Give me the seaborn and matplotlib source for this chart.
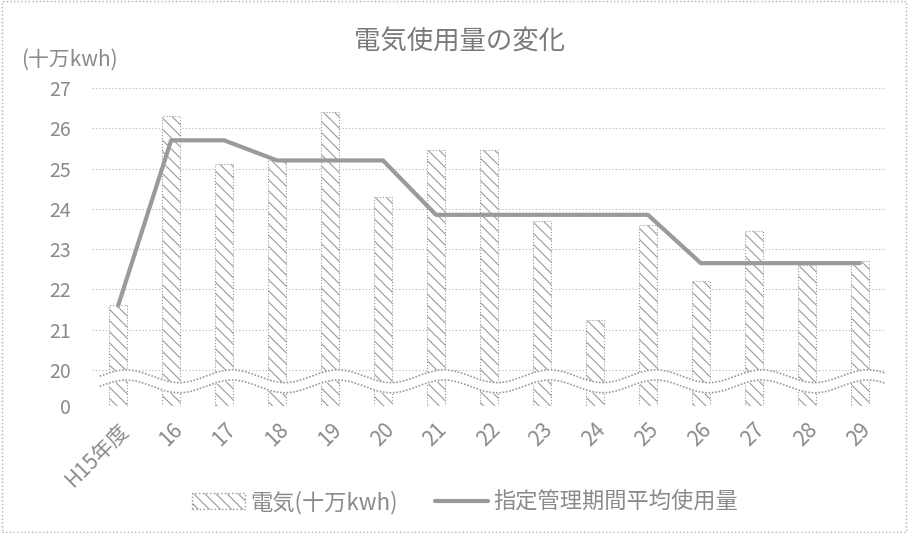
import matplotlib
matplotlib.use("Agg")
import matplotlib.pyplot as plt
import matplotlib.transforms as mtransforms
import numpy as np
import seaborn as sns

# 年度ごとの電気使用量（十万kwh）と指定管理期間の平均
years = ["H15年度", "16", "17", "18", "19", "20", "21", "22", "23", "24", "25", "26", "27", "28", "29"]
usage = [21.6, 26.3, 25.1, 25.2, 26.4, 24.3, 25.45, 25.45, 23.7, 21.25, 23.6, 22.2, 23.45, 22.6, 22.7]
period_avg = [21.6, 25.7, 25.7, 25.2, 25.2, 25.2, 23.85, 23.85, 23.85, 23.85, 23.85, 22.65, 22.65, 22.65, 22.65]
yticks = [0, 20, 21, 22, 23, 24, 25, 26, 27]

gray = "#9a9a9a"
text_gray = "#8a8a8a"

sns.set_theme(style="white")
plt.rcParams["font.family"] = ["Noto Sans CJK JP", "DejaVu Sans"]
plt.rcParams["hatch.linewidth"] = 0.8


# 0〜20 を圧縮した軸（省略線あり）
def fwd(v):
    v = np.asarray(v, dtype=float)
    return np.where(v >= 20, v - 19.1, v * 0.045)


def inv(u):
    u = np.asarray(u, dtype=float)
    return np.where(u >= 0.9, u + 19.1, u / 0.045)


fig = plt.figure(figsize=(9.08, 5.33), dpi=100)
ax = fig.add_axes([0.101, 0.238, 0.875, 0.597])

sns.barplot(x=years, y=usage, ax=ax, color="white", width=0.34,
            edgecolor=gray, linewidth=0.8, zorder=2)
for p in ax.patches:
    p.set_hatch("\\\\\\")
    p.set_linestyle(":")

sns.lineplot(x=np.arange(len(years)), y=period_avg, ax=ax, color=gray,
             linewidth=3, zorder=4, sort=False)

ax.set_yscale("function", functions=(fwd, inv))
ax.set_ylim(0, 27)
ax.set_xlim(-0.5, len(years) - 0.5)
ax.set_yticks(yticks)
ax.set_yticklabels([str(t) for t in yticks])

for t in yticks[1:]:
    ax.axhline(t, color="#b5b5b5", linestyle=(0, (1, 2)), linewidth=0.8, zorder=1)

# 省略記号（波線）
trans = mtransforms.blended_transform_factory(ax.transData, ax.transAxes)
wx = np.linspace(-0.35, len(years) - 0.3, 600)
phase = np.sin(np.pi * (wx + 0.35))
lower = 0.062 + 0.02 * phase
upper = lower + 0.032
ax.fill_between(wx, lower, upper, transform=trans, color="white", zorder=3)
ax.plot(wx, lower, transform=trans, color=gray, linewidth=1.2, linestyle=(0, (1, 1)), zorder=3)
ax.plot(wx, upper, transform=trans, color=gray, linewidth=1.2, linestyle=(0, (1, 1)), zorder=3)

for s in ax.spines.values():
    s.set_visible(False)
ax.tick_params(axis="y", length=0, pad=15, labelsize=14, labelcolor=text_gray)
ax.tick_params(axis="x", length=0, pad=9, labelsize=15, labelcolor=text_gray)
for lab in ax.get_xticklabels():
    lab.set_rotation(45)
    lab.set_ha("right")
    lab.set_rotation_mode("anchor")
ax.set_xlabel("")
ax.set_ylabel("")

fig.text(0.506, 0.921, "電気使用量の変化", ha="center", va="center",
         fontsize=19, color="#7a7a7a")
fig.text(0.023, 0.887, "(十万kwh)", ha="left", va="center",
         fontsize=15, color=text_gray)

bar_handle = matplotlib.patches.Patch(facecolor="white", edgecolor=gray,
                                      hatch="\\\\\\", linestyle=":", label="電気(十万kwh)")
line_handle = matplotlib.lines.Line2D([], [], color=gray, linewidth=3,
                                      label="指定管理期間平均使用量")
fig.legend(handles=[bar_handle, line_handle], loc="center", ncol=2,
           bbox_to_anchor=(0.512, 0.058), frameon=False, fontsize=16,
           labelcolor=text_gray, handlelength=2.4, handletextpad=0.2,
           columnspacing=1.7)

fig.patches.append(matplotlib.patches.Rectangle(
    (0.002, 0.002), 0.996, 0.996, transform=fig.transFigure, fill=False,
    edgecolor="#b0b0b0", linestyle=":", linewidth=1))

fig.savefig("out.png", dpi=100)
